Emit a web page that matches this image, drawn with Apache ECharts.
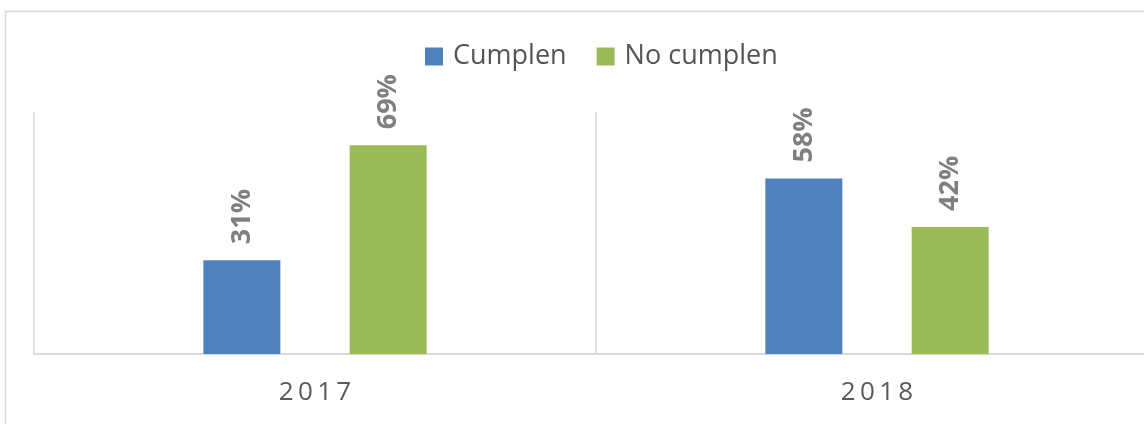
<!DOCTYPE html>
<html>
<head>
<meta charset="utf-8">
<script src="https://cdn.jsdelivr.net/npm/echarts@6/dist/echarts.min.js"></script>
<style>
  html, body { margin: 0; padding: 0; background: #fff; }
  #chart { width: 1144px; height: 424px; }
</style>
</head>
<body>
<div id="chart"></div>
<script>
// data
const years = ['2017', '2018'];
const cumplen = [31, 58];
const noCumplen = [69, 42];
const seriesNames = ['Cumplen', 'No cumplen'];

const chart = echarts.init(document.getElementById('chart'));

const labelStyle = {
    show: true,
    position: 'top',
    rotate: 90,
    align: 'left',
    verticalAlign: 'middle',
    distance: 16,
    formatter: '{c}%',
    color: '#7f7f7f',
    fontWeight: 'bold',
    fontSize: 27,
    fontFamily: '"Open Sans", sans-serif'
};

chart.setOption({
    animation: false,
    textStyle: { fontFamily: '"Open Sans", sans-serif' },
    graphic: [{
        type: 'rect',
        shape: { x: 5.5, y: 11.5, width: 1300, height: 600 },
        style: { fill: 'none', stroke: '#d9d9d9', lineWidth: 1.5 },
        silent: true
    }],
    legend: {
        data: seriesNames,
        left: 420,
        top: 38,
        itemWidth: 18,
        itemHeight: 18,
        itemGap: 30,
        icon: 'rect',
        textStyle: { fontSize: 27, color: '#555555', padding: [0, 0, 0, 5] }
    },
    grid: {
        left: 34,
        top: 112,
        width: 1124,
        height: 242,
        outerBoundsMode: 'none'
    },
    xAxis: {
        type: 'category',
        data: years,
        axisLine: { lineStyle: { color: '#d9d9d9', width: 2 } },
        axisTick: { show: false },
        splitLine: { show: true, interval: 0, lineStyle: { color: '#d9d9d9', width: 1.5 } },
        axisLabel: {
            margin: 26,
            fontSize: 26,
            color: '#595959',
            formatter: v => v.split('').join('\u2009')
        }
    },
    yAxis: {
        type: 'value',
        min: 0,
        max: 80,
        show: false
    },
    series: [{
        name: seriesNames[0],
        type: 'bar',
        data: cumplen,
        barWidth: 77,
        barGap: '90%',
        itemStyle: { color: '#4f81bd' },
        label: labelStyle
    }, {
        name: seriesNames[1],
        type: 'bar',
        data: noCumplen,
        barWidth: 77,
        itemStyle: { color: '#9bbb59' },
        label: labelStyle
    }]
});
</script>
</body>
</html>
